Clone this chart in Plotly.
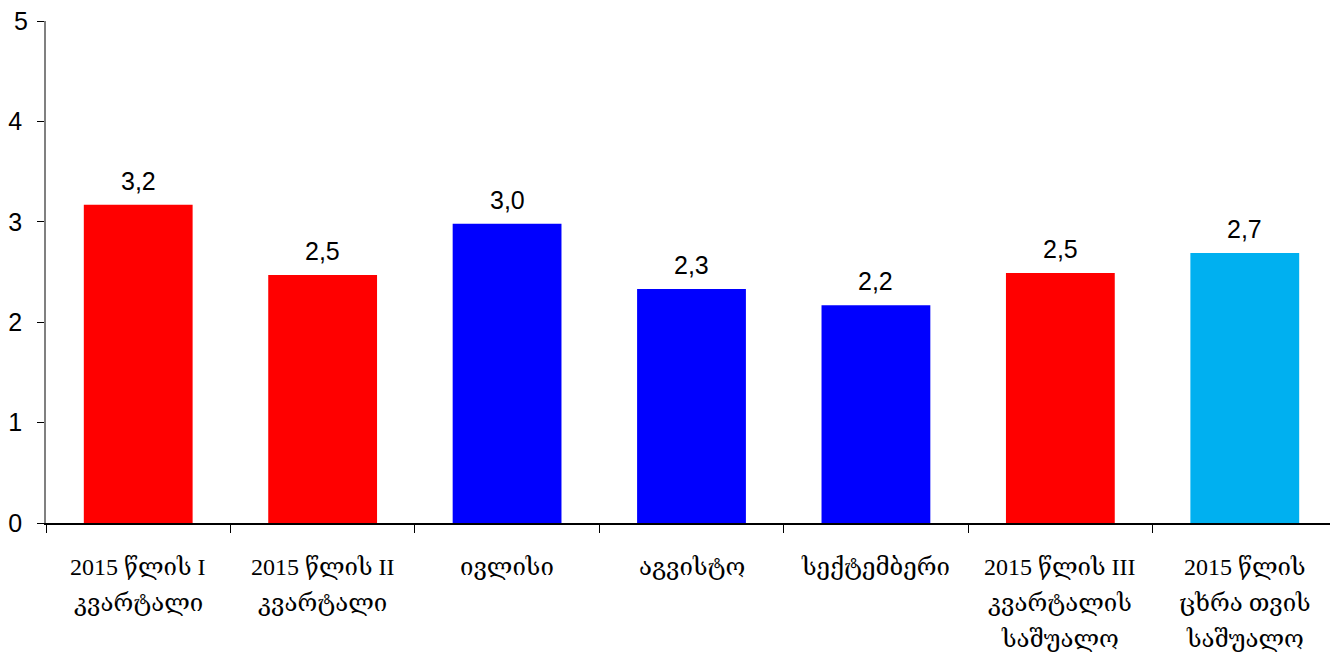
import plotly.graph_objects as go

categories = [
    "2015 წლის I<br>კვარტალი",
    "2015 წლის II<br>კვარტალი",
    "ივლისი",
    "აგვისტო",
    "სექტემბერი",
    "2015 წლის III<br>კვარტალის<br>საშუალო",
    "2015 წლის<br>ცხრა თვის<br>საშუალო",
]
values = [3.17, 2.47, 2.98, 2.33, 2.17, 2.49, 2.69]
colors = ["#FF0000", "#FF0000", "#0000FF", "#0000FF", "#0000FF", "#FF0000", "#00B0F0"]
y_ticks = [0, 1, 2, 3, 4, 5]

tick_font = dict(family="Liberation Sans, Arial", size=25, color="black")

fig = go.Figure()
fig.add_trace(go.Bar(
    x=categories, y=values, marker_color=colors, marker_line_width=0,
))

# data labels
for c, v in zip(categories, values):
    fig.add_annotation(
        x=c, y=v, text=f"{v:.1f}".replace(".", ","), showarrow=False,
        yanchor="bottom", yshift=8,
        font=dict(family="Liberation Sans, Arial", size=25, color="black"),
    )

# category labels with wider line spacing
for c in categories:
    for i, line in enumerate(c.split("<br>")):
        fig.add_annotation(
            x=c, y=0, yref="paper", text=line, showarrow=False,
            yanchor="middle", yshift=-(44 + 36 * i),
            font=dict(family="Liberation Serif, DejaVu Serif", size=24, color="black"),
        )

# top y tick label (axis drops it at the paper edge)
fig.add_annotation(
    x=0, xref="paper", y=y_ticks[-1], yref="y", text=str(y_ticks[-1]),
    showarrow=False, xanchor="right", yanchor="middle", xshift=-16,
    font=tick_font,
)

fig.update_layout(
    width=1330, height=646,
    margin=dict(l=38, r=1, t=13, b=131),
    plot_bgcolor="white", paper_bgcolor="white",
    bargap=0.41, showlegend=False,
)
fig.update_xaxes(
    showline=True, linecolor="black", linewidth=1.5,
    ticks="outside", tickson="boundaries", ticklen=8, tickcolor="black",
    showticklabels=False, automargin=False,
    showgrid=False,
)
fig.update_yaxes(
    range=[0, 5], tickvals=y_ticks,
    ticktext=[str(t) for t in y_ticks[:-1]] + [""],
    showline=True, linecolor="#808080", linewidth=1.5,
    ticks="outside", ticklen=7, tickcolor="black", ticklabelstandoff=10,
    tickfont=tick_font,
    showgrid=False, zeroline=False, automargin=False,
)
fig.write_html("out.html")
